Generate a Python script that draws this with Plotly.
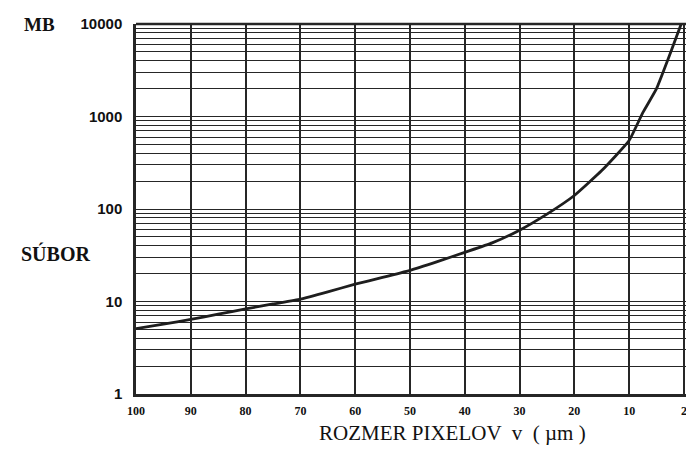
import plotly.graph_objects as go

# Axis positions (linear scale; the last position is labelled "2")
x_tick_pos = [100, 90, 80, 70, 60, 50, 40, 30, 20, 10, 0]
x_tick_text = ["100", "90", "80", "70", "60", "50", "40", "30", "20", "10", "2"]

# Curve: file size (MB) vs pixel size position
curve_x = [100, 95, 90, 85, 80, 75, 70, 65, 60, 55, 50, 45, 40, 35, 30, 25, 20, 15, 10, 7.5, 5, 2.5, 0.5]
curve_mb = [5.1, 5.7, 6.4, 7.3, 8.3, 9.4, 10.6, 12.7, 15.4, 18.2, 21.7, 27, 34, 43, 59, 88, 140, 260, 550,
            1100, 2000, 4800, 10000]

y_major = [1, 10, 100, 1000, 10000]
y_grid = [m * 10 ** k for k in range(4) for m in range(1, 10)] + [10000]
y_text = [str(v) if v in y_major else "" for v in y_grid]

INK = "#262626"

fig = go.Figure()
fig.add_trace(go.Scatter(
    x=curve_x, y=curve_mb, mode="lines",
    line=dict(color="#1e1e1e", width=2.8, shape="spline", smoothing=0.4),
    hoverinfo="skip", showlegend=False,
))

fig.update_layout(
    width=694, height=449,
    margin=dict(l=128, r=0, t=16, b=63),
    paper_bgcolor="white", plot_bgcolor="white",
    showlegend=False,
    xaxis=dict(
        range=[100, -3.3], tickmode="array", tickvals=x_tick_pos,
        ticktext=["<b>%s</b>" % t for t in x_tick_text],
        showgrid=True, gridcolor=INK, gridwidth=1.8,
        showline=True, linecolor=INK, linewidth=2.5,
        zeroline=False, ticks="",
        tickfont=dict(family="Liberation Serif", size=12, color="#111"),
        ticklabelstandoff=4,
    ),
    yaxis=dict(
        type="log", range=[0, 4], tickmode="array", tickvals=y_grid,
        ticktext=["<b>%s</b>" % t if t else "" for t in y_text],
        showgrid=True, gridcolor=INK, gridwidth=1.3,
        showline=True, linecolor=INK, linewidth=2.5,
        zeroline=False, ticks="",
        tickfont=dict(family="Liberation Sans", size=15, color="#111"),
        ticklabelstandoff=8,
    ),
    font=dict(family="Liberation Serif", color="#111"),
)

# top border
fig.add_shape(type="line", xref="paper", yref="paper", x0=0, x1=1, y0=1, y1=1,
              line=dict(color=INK, width=2.5))

fig.add_annotation(text="<b>MB</b>", xref="paper", yref="paper", x=-0.17, y=1.0,
                   xanchor="center", yanchor="middle", showarrow=False,
                   font=dict(family="Liberation Serif", size=19, color="#111"))
fig.add_annotation(text="<b>SÚBOR</b>", xref="paper", yref="paper", x=-0.143, y=0.38,
                   xanchor="center", yanchor="middle", showarrow=False,
                   font=dict(family="Liberation Serif", size=20, color="#111"))
fig.add_annotation(text="ROZMER PIXELOV  v  ( µm )", xref="paper", yref="paper", x=0.56, y=-0.105,
                   xanchor="center", yanchor="middle", showarrow=False,
                   font=dict(family="Liberation Serif", size=21, color="#111"))

fig.write_html("out.html")
